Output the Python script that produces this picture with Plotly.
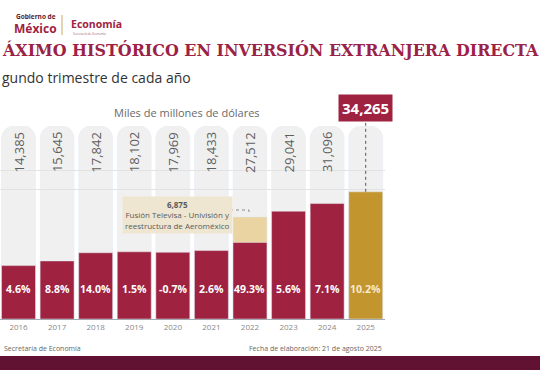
import plotly.graph_objects as go

# ---------------- data ----------------
years = ["2016", "2017", "2018", "2019", "2020", "2021", "2022", "2023", "2024", "2025"]
ied_values = [14385, 15645, 17842, 18102, 17969, 18433, 27512, 29041, 31096, 34265]
growth_labels = ["4.6%", "8.8%", "14.0%", "1.5%", "-0.7%", "2.6%", "49.3%", "5.6%", "7.1%", "10.2%"]
extraordinary_year = "2022"
extraordinary_value = 6875
value_labels = ["14,385", "15,645", "17,842", "18,102", "17,969", "18,433", "27,512", "29,041", "31,096", "34,265"]

# ---------------- style ----------------
MAROON = "#9F2241"
DARK = "#611232"
GOLD = "#C3952F"
BEIGE = "#E9D4A2"
Y_MAX = 52000
PLOT_W, PLOT_T, PLOT_B = 385, 126, 319
FONT = "Open Sans"


def px(xp):
    return xp / PLOT_W


def py(yp):
    return (PLOT_B - yp) / (PLOT_B - PLOT_T)


pos = list(range(len(years)))
last_i = len(years) - 1
ext_i = years.index(extraordinary_year)
colors = [GOLD if i == last_i else (BEIGE if i == ext_i else MAROON) for i in pos]
base_part = ied_values[ext_i] - extraordinary_value

fig = go.Figure()
# background tracks
fig.add_trace(go.Bar(x=pos, y=[Y_MAX] * len(years), marker=dict(color="rgba(225,225,225,0.5)", cornerradius=12),
                     hoverinfo="skip", showlegend=False))
# totals
fig.add_trace(go.Bar(x=pos, y=ied_values, marker=dict(color=colors, cornerradius=12), showlegend=False))
# ordinary portion of 2022
fig.add_trace(go.Bar(x=[ext_i], y=[base_part], marker=dict(color=MAROON, cornerradius=0), showlegend=False))

ann = []
for i, lab in zip(pos[:-1], value_labels[:-1]):
    ann.append(dict(x=i, y=45000, xref="x", yref="y", text=lab, textangle=-90, showarrow=False,
                    xanchor="center", yanchor="middle",
                    font=dict(family=FONT, size=13, color="#5E5E5E")))
for i, g in zip(pos, growth_labels):
    ann.append(dict(x=i, y=8000, xref="x", yref="y", text="<b>%s</b>" % g, showarrow=False,
                    xanchor="center", yanchor="middle",
                    font=dict(family=FONT, size=10.5, color="#F6E9CC" if i == last_i else "white")))


def paper_text(x, y, text, size, color, xanchor="center", family=FONT, **kw):
    ann.append(dict(x=px(x), y=py(y), xref="paper", yref="paper", text=text, showarrow=False,
                    xanchor=xanchor, yanchor="middle", font=dict(family=family, size=size, color=color), **kw))


# highlight label for the last year
ann.append(dict(x=last_i, y=py(108), xref="x", yref="paper", text="<b>%s</b>" % value_labels[-1], showarrow=False,
                xanchor="center", yanchor="middle",
                bgcolor=MAROON, borderpad=3, font=dict(family=FONT, size=15, color="white")))
# extraordinary note
paper_text(177.5, 215, "<b>%s</b><br>Fusión Televisa - Univisión y<br>reestructura de Aeroméxico" % f"{extraordinary_value:,}",
           8, "#5A5A5A", align="center", bgcolor="#EFE6D1", borderpad=2)
# units
paper_text(187, 112, "Miles de millones de dólares", 11, "#6A6A6A")
# title & subtitle
paper_text(0, 50, "<b>ÁXIMO HISTÓRICO EN INVERSIÓN EXTRANJERA DIRECTA</b>", 15.9, "#9B2247",
           xanchor="left", family="DejaVu Serif")
paper_text(0, 77, "gundo trimestre de cada año", 14, "#333333", xanchor="left")
# logo
paper_text(14, 16, "<b>Gobierno de</b>", 6.5, "#5A1A2E", xanchor="left")
paper_text(12, 28, "<b>México</b>", 12, MAROON, xanchor="left")
paper_text(69, 24, "<b>Economía</b>", 10.5, MAROON, xanchor="left")
paper_text(71, 34, "Secretaría de Economía", 3, "#9F6070", xanchor="left")
# footer
paper_text(2, 348, "Secretaría de Economía", 7, "#666666", xanchor="left")
paper_text(384, 348, "Fecha de elaboración: 21 de agosto 2025", 7, "#666666", xanchor="right")

shapes = [
    # dashed leader for last year
    dict(type="line", xref="x", yref="paper", x0=last_i, x1=last_i, y0=ied_values[-1] / Y_MAX, y1=py(120),
         line=dict(color="#555555", width=1, dash="dot")),
    # dashed leader for note
    dict(type="path", xref="paper", yref="paper",
         path="M %f,%f L %f,%f L %f,%f" % (px(230), py(210), px(249), py(210), px(249), py(214)),
         line=dict(color="#8A8A8A", width=1, dash="dot")),
    # logo separator
    dict(type="line", xref="paper", yref="paper", x0=px(62), x1=px(62), y0=py(15), y1=py(35),
         line=dict(color="#C9A86B", width=1)),
    # bottom band
    dict(type="rect", xref="paper", yref="paper", x0=px(-5), x1=px(545), y0=py(372), y1=py(356),
         fillcolor=DARK, line=dict(width=0), layer="above"),
]

fig.update_layout(
    width=540, height=370,
    margin=dict(l=0, r=540 - PLOT_W, t=PLOT_T, b=370 - PLOT_B),
    paper_bgcolor="white", plot_bgcolor="white",
    barmode="overlay", bargap=0.12,
    annotations=ann, shapes=shapes,
    xaxis=dict(range=[-0.48, 9.5], tickvals=pos, ticktext=years, showline=True, linecolor="#A3AAB2",
               linewidth=1, ticks="", showgrid=False, zeroline=False,
               tickfont=dict(family=FONT, size=8, color="#888888"), fixedrange=True),
    yaxis=dict(range=[0, Y_MAX], tickvals=[35000, 40000], showticklabels=False, showgrid=True,
               gridcolor="#E2E2E2", zeroline=False, fixedrange=True),
    font=dict(family=FONT),
)

fig.write_html("out.html", config={"displayModeBar": False},
               post_script="document.body.style.margin='0';")
